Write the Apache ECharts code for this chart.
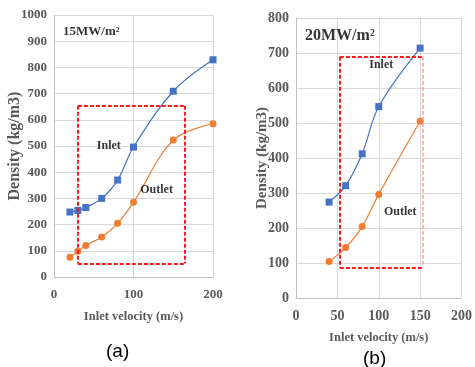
<!DOCTYPE html>
<html>
<head>
<meta charset="utf-8">
<script src="https://cdn.jsdelivr.net/npm/echarts@6/dist/echarts.min.js"></script>
<style>
  html, body { margin: 0; padding: 0; background: #fff; }
  #chart { width: 475px; height: 367px; }
</style>
</head>
<body>
<div id="chart"></div>
<script>
// Panel (a): heat flux 15 MW/m2
const velA = [20, 30, 40, 60, 80, 100, 150, 200];
const inletA = [248, 254, 265, 300, 370, 496, 709, 829];
const outletA = [75, 98, 120, 153, 205, 285, 523, 585];

// Panel (b): heat flux 20 MW/m2
const velB = [40, 60, 80, 100, 150];
const inletB = [274, 321, 412, 547, 714];
const outletB = [104, 144, 204, 296, 505];

// Highlighted velocity/density windows [[x0, yTop], [x1, yBottom]]
const boxA = [[30, 654], [165, 52]];
const boxB = [[53, 689], [153, 87]];

// Annotation texts with their data-space anchors
const notesA = [[47, 935, '15MW/m²', 13], [69, 501, 'Inlet', 12], [129, 332, 'Outlet', 12]];
const notesB = [[53, 750, '20MW/m²', 16], [103, 667, 'Inlet', 12], [126, 247, 'Outlet', 12]];

const SERIF = '"Liberation Serif", "Times New Roman", serif';
const GREY = '#595959';
const BLUE = '#4472C4';
const ORANGE = '#ED7D31';

const pair = (xs, ys) => xs.map((x, i) => [x, ys[i]]);
const plain = v => String(v);

function xAxisCfg(gridIndex, interval, fontSize) {
  return {
    type: 'value', gridIndex, min: 0, max: 200, interval,
    name: 'Inlet velocity (m/s)', nameLocation: 'middle', nameGap: 33, nameMoveOverlap: false,
    nameTextStyle: { fontFamily: SERIF, fontWeight: 'bold', fontSize: 12.5, color: GREY },
    axisLine: { show: true, lineStyle: { color: '#bfbfbf', width: 1 } },
    axisTick: { show: false },
    axisLabel: { fontFamily: SERIF, fontWeight: 'bold', fontSize, color: GREY, margin: 11, formatter: plain },
    splitLine: { show: true, lineStyle: { color: '#d9d9d9', width: 1 } }
  };
}

function yAxisCfg(gridIndex, max, fontSize, nameSize, nameGap) {
  return {
    type: 'value', gridIndex, min: 0, max, interval: 100,
    name: 'Density (kg/m3)', nameLocation: 'middle', nameGap, nameMoveOverlap: false,
    nameTextStyle: { fontFamily: SERIF, fontWeight: 'bold', fontSize: nameSize, color: GREY },
    axisLine: { show: true, lineStyle: { color: '#bfbfbf', width: 1 } },
    axisTick: { show: false },
    axisLabel: { fontFamily: SERIF, fontWeight: 'bold', fontSize, color: GREY, margin: 7, formatter: plain },
    splitLine: { show: true, lineStyle: { color: '#d9d9d9', width: 1 } }
  };
}

function curve(name, idx, data, color, symbol) {
  return {
    name, type: 'line', xAxisIndex: idx, yAxisIndex: idx, data,
    smooth: 0.35, symbol, symbolSize: 7,
    lineStyle: { color, width: 1.2 },
    itemStyle: { color },
    z: 3
  };
}

function boxLines(box, rightColor, rightWidth) {
  const [[x0, y0], [x1, y1]] = box;
  const red = { color: '#ff1a1a', width: 2, type: [4, 2] };
  const side = { color: rightColor, width: rightWidth, type: [4, 2] };
  return [
    [{ coord: [x0, y0], lineStyle: red }, { coord: [x1, y0] }],
    [{ coord: [x0, y1], lineStyle: red }, { coord: [x1, y1] }],
    [{ coord: [x0, y0], lineStyle: red }, { coord: [x0, y1] }],
    [{ coord: [x1, y0], lineStyle: side }, { coord: [x1, y1] }]
  ];
}

function boxSeries(idx, box, rightColor, rightWidth) {
  return {
    type: 'line', xAxisIndex: idx, yAxisIndex: idx, data: [], silent: true,
    markLine: {
      silent: true, symbol: ['none', 'none'], animation: false,
      label: { show: false },
      data: boxLines(box, rightColor, rightWidth)
    },
    z: 2
  };
}

function noteSeries(idx, notes) {
  return {
    type: 'scatter', xAxisIndex: idx, yAxisIndex: idx, symbolSize: 0, silent: true,
    data: notes.map(n => ({
      value: [n[0], n[1]],
      label: {
        show: true, position: 'inside', formatter: n[2],
        fontFamily: SERIF, fontWeight: 'bold', fontSize: n[3], color: '#000'
      }
    })),
    z: 4
  };
}

const CAPTION = { fontFamily: '"Liberation Sans Narrow", "Liberation Sans", Arial, sans-serif', fontWeight: 'normal', fontSize: 19, color: '#000' };

const chart = echarts.init(document.getElementById('chart'), null, { renderer: 'canvas' });
chart.setOption({
  animation: false,
  backgroundColor: '#fff',
  title: [
    { text: '(a)', left: 101, top: 337, textStyle: CAPTION },
    { text: '(b)', left: 358, top: 344, textStyle: CAPTION }
  ],
  grid: [
    { left: 54, top: 15, width: 159, height: 262 },
    { left: 296, top: 18, width: 169, height: 280 }
  ],
  xAxis: [xAxisCfg(0, 100, 13), xAxisCfg(1, 50, 14)],
  yAxis: [yAxisCfg(0, 1000, 13, 16, 31), yAxisCfg(1, 800, 14, 15, 26)],
  series: [
    boxSeries(0, boxA, '#ff1a1a', 2),
    boxSeries(1, boxB, '#ff9a9a', 1.5),
    curve('Inlet', 0, pair(velA, inletA), BLUE, 'rect'),
    curve('Outlet', 0, pair(velA, outletA), ORANGE, 'circle'),
    curve('Inlet', 1, pair(velB, inletB), BLUE, 'rect'),
    curve('Outlet', 1, pair(velB, outletB), ORANGE, 'circle'),
    noteSeries(0, notesA),
    noteSeries(1, notesB)
  ]
});
</script>
</body>
</html>
